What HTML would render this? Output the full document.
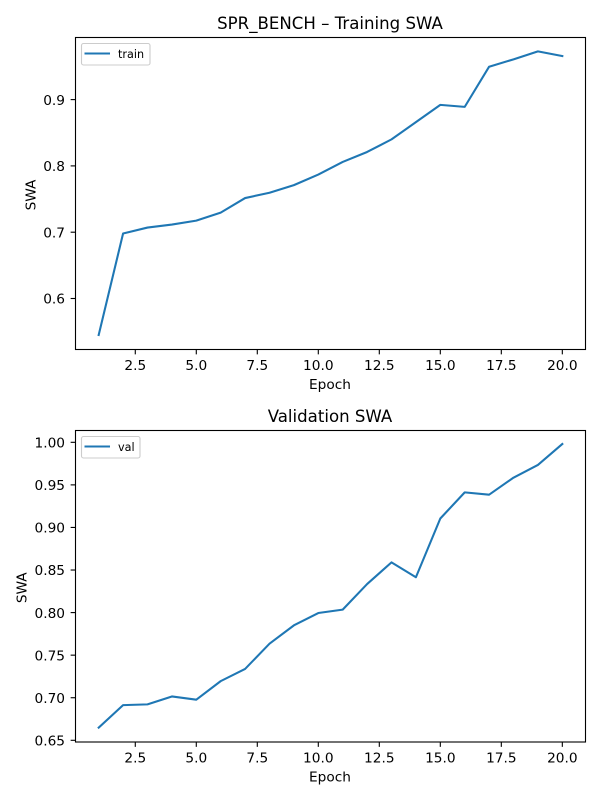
<!DOCTYPE html>
<html>
<head>
<meta charset="utf-8">
<title>SPR_BENCH SWA</title>
<style>
html,body{margin:0;padding:0;background:#fff;}
svg{display:block;}
text{font-family:"DejaVu Sans","Liberation Sans",sans-serif;fill:#000;}
</style>
</head>
<body>
<svg id="chart" xmlns="http://www.w3.org/2000/svg" width="600" height="800" viewBox="0 0 600 800"></svg>
<script>
const epochs = [1,2,3,4,5,6,7,8,9,10,11,12,13,14,15,16,17,18,19,20];
const trainSwa = [0.545,0.698,0.707,0.7115,0.7175,0.7295,0.7515,0.7595,0.771,0.787,0.806,0.821,0.840,0.866,0.892,0.889,0.9496,0.9607,0.9727,0.9657];
const valSwa = [0.6649,0.6913,0.6922,0.7015,0.6977,0.7195,0.7338,0.7635,0.785,0.7995,0.8035,0.8335,0.859,0.8415,0.9105,0.9412,0.9385,0.9585,0.9734,0.998];
const xTicks = [2.5,5,7.5,10,12.5,15,17.5,20];
const xTickLabels = ["2.5","5.0","7.5","10.0","12.5","15.0","17.5","20.0"];
const trainYTicks = [0.6,0.7,0.8,0.9];
const trainYTickLabels = ["0.6","0.7","0.8","0.9"];
const valYTicks = [0.65,0.70,0.75,0.80,0.85,0.90,0.95,1.00];
const valYTickLabels = ["0.65","0.70","0.75","0.80","0.85","0.90","0.95","1.00"];

const svg = document.getElementById('chart');
const NS = 'http://www.w3.org/2000/svg';

function make(parent, tag, attrs, content) {
  const el = document.createElementNS(NS, tag);
  for (const k in attrs) el.setAttribute(k, attrs[k]);
  if (content !== undefined) el.textContent = content;
  parent.appendChild(el);
  return el;
}

function drawPanel(opts) {
  const left = 75.5, right = 585.5, top = opts.top, bottom = opts.bottom;
  const xMin = 1 - 0.95, xMax = 20 + 0.95;
  const sx = v => left + (v - xMin) / (xMax - xMin) * (right - left);
  const sy = v => opts.y0px + (v - opts.y0) * opts.pxPerUnit;

  const g = make(svg, 'g', {});
  
  

  const pts = opts.values.map((v, i) => sx(epochs[i]).toFixed(2) + ',' + sy(v).toFixed(2)).join(' ');
  const line = make(g, 'polyline', {points: pts, fill: 'none', stroke: '#1f77b4', 'stroke-width': 2.08, 'stroke-linecap': 'square', 'stroke-linejoin': 'round'});
  
  

  const frame = make(g, 'rect', {x: left, y: top, width: right - left, height: bottom - top, fill: 'none', stroke: '#000', 'stroke-width': 1.11});
  
  

  xTicks.forEach((t, i) => {
    const x = sx(t);
    const tick = make(g, 'line', {x1: x, x2: x, y1: bottom, y2: bottom + 4.86, stroke: '#000', 'stroke-width': 1.11});
    
    
    const label = make(g, 'text', {x: x, y: bottom + 20.5, 'font-size': 13.7, 'text-anchor': 'middle'}, xTickLabels[i]);
    
    
  });

  opts.yTicks.forEach((t, i) => {
    const y = sy(t);
    const tick = make(g, 'line', {x1: left - 4.86, x2: left, y1: y, y2: y, stroke: '#000', 'stroke-width': 1.11});
    
    
    const label = make(g, 'text', {x: left - 10.5, y: y + 5.2, 'font-size': 13.7, 'text-anchor': 'end'}, opts.yTickLabels[i]);
    
    
  });

  const title = make(g, 'text', {x: 330, y: top - 8.3, 'font-size': 16.6, 'text-anchor': 'middle'}, opts.title);
  
  

  const xTitle = make(g, 'text', {x: 330, y: bottom + 39.5, 'font-size': 13.7, 'text-anchor': 'middle'}, 'Epoch');
  
  

  const yMid = (top + bottom) / 2 + 1.5;
  const yTitle = make(g, 'text', {x: 0, y: 0, 'font-size': 13.7, 'text-anchor': 'middle', transform: 'translate(' + opts.yTitleX + ' ' + yMid + ') rotate(-90)'}, 'SWA');
  
  

  const legend = make(g, 'g', {});
  
  
  const ly = top + 6;
  const box = make(legend, 'rect', {x: 81.5, y: ly, width: opts.legendWidth, height: 21.5, rx: 2, ry: 2, fill: '#fff', 'fill-opacity': 0.8, stroke: '#ccc', 'stroke-width': 1.11});
  
  
  const key = make(legend, 'line', {x1: 84.5, x2: 110, y1: ly + 10, y2: ly + 10, stroke: '#1f77b4', 'stroke-width': 2.08});
  
  
  const keyText = make(legend, 'text', {x: 118, y: ly + 14.5, 'font-size': 11.2}, opts.legendLabel);
  
  
}

drawPanel({
  prefix: 'train', title: 'SPR_BENCH \u2013 Training SWA', legendLabel: 'train', legendWidth: 68.5,
  values: trainSwa, yTicks: trainYTicks, yTickLabels: trainYTickLabels,
  top: 37.5, bottom: 349.5, y0: 0.6, y0px: 298.5, pxPerUnit: -663, yTitleX: 35.5
});
drawPanel({
  prefix: 'val', title: 'Validation SWA', legendLabel: 'val', legendWidth: 58.5,
  values: valSwa, yTicks: valYTicks, yTickLabels: valYTickLabels,
  top: 430.5, bottom: 742, y0: 0.65, y0px: 740.3, pxPerUnit: -851.4, yTitleX: 26.5
});
</script>
</body>
</html>
